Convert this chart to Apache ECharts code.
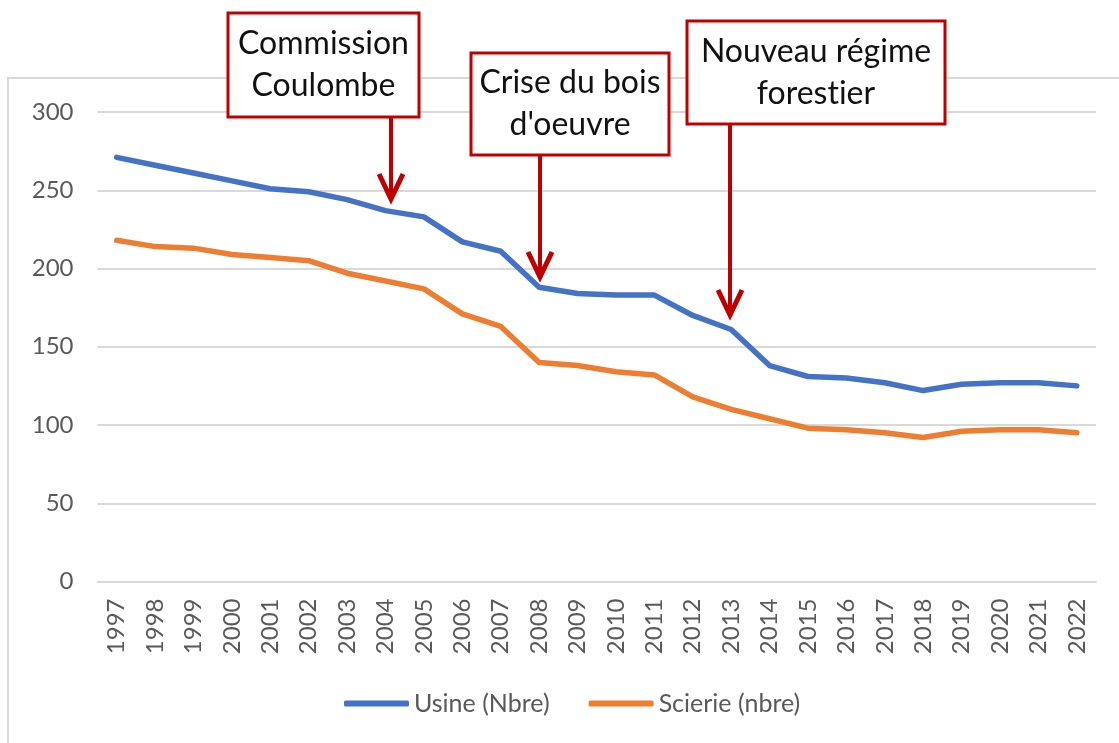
<!DOCTYPE html>
<html>
<head>
<meta charset="utf-8">
<script src="https://cdn.jsdelivr.net/npm/echarts@6/dist/echarts.min.js"></script>
<style>
  html, body {margin: 0; padding: 0; background: #fff;}
  #main {width: 1119px; height: 743px;}
</style>
</head>
<body>
<div id="main"></div>
<script>
// années
const years = ['1997','1998','1999','2000','2001','2002','2003','2004','2005','2006','2007','2008','2009',
  '2010','2011','2012','2013','2014','2015','2016','2017','2018','2019','2020','2021','2022']
// Usine (Nbre)
const usine = [271, 266, 261, 256, 251, 249, 244, 237, 233, 217, 211, 188, 184,
  183, 183, 170, 161, 138, 131, 130, 127, 122, 126, 127, 127, 125]
// Scierie (nbre)
const scierie = [218, 214, 213, 209, 207, 205, 197, 192, 187, 171, 163, 140, 138,
  134, 132, 118, 110, 104, 98, 97, 95, 92, 96, 97, 97, 95]
const yTicks = [0, 50, 100, 150, 200, 250, 300]

const FONT = "Lato, 'Open Sans', sans-serif"
const RED = '#C00000'

// encadrés : texte, boîte [x, y, w, h], flèche [x, y0, y1]
const notes = [
  {text: 'Commission\nCoulombe', box: [228, 13, 191, 104], arrow: [391, 117, 199]},
  {text: 'Crise du bois\nd\'oeuvre', box: [471, 53, 198, 102], arrow: [540, 155, 277]},
  {text: 'Nouveau régime\nforest\u200Bier', box: [687, 21, 258, 103], arrow: [730, 124, 315]}
]

const chart = echarts.init(document.getElementById('main'))

const graphics = [
  // cadre du graphique
  {type: 'rect', shape: {x: 8, y: 78, width: 1200, height: 800}, style: {fill: null, stroke: '#d9d9d9', lineWidth: 2}, z: -1, silent: true}
]
notes.forEach(n => {
  const [bx, by, bw, bh] = n.box
  const [ax, ay0, ay1] = n.arrow
  graphics.push({
    type: 'line', z: 100, shape: {x1: ax, y1: ay0, x2: ax, y2: ay1 - 2},
    style: {stroke: RED, lineWidth: 4}
  })
  graphics.push({
    type: 'polyline', z: 100, shape: {points: [[ax - 12, ay1 - 25], [ax, ay1], [ax + 12, ay1 - 25]]},
    style: {stroke: RED, lineWidth: 5, fill: null, lineJoin: 'miter'}
  })
  graphics.push({
    type: 'rect', z: 101, shape: {x: bx, y: by, width: bw, height: bh},
    style: {fill: '#fff', stroke: RED, lineWidth: 3}
  })
  graphics.push({
    type: 'text', z: 102, x: bx + bw / 2, y: by + bh / 2,
    style: {text: n.text, fill: '#111', font: '32px ' + FONT, align: 'center', verticalAlign: 'middle', lineHeight: 42}
  })
})

const option = {
  backgroundColor: '#fff',
  animation: false,
  textStyle: {fontFamily: FONT},
  grid: {left: 97.5, right: 23, top: 112, bottom: 161.5},
  legend: {
    left: 339, top: 686,
    itemWidth: 65, itemHeight: 6, itemGap: 39,
    icon: 'roundRect',
    textStyle: {fontSize: 25, color: '#595959', fontFamily: FONT},
    data: ['Usine (Nbre)', 'Scierie (nbre)']
  },
  xAxis: {
    type: 'category',
    data: years,
    boundaryGap: true,
    axisLine: {show: true, lineStyle: {color: '#d9d9d9', width: 2}},
    axisTick: {show: false},
    axisLabel: {rotate: 90, interval: 0, fontSize: 24, color: '#595959', margin: 17}
  },
  yAxis: {
    type: 'value',
    min: yTicks[0], max: yTicks[yTicks.length - 1], interval: 50,
    axisLine: {show: false},
    axisTick: {show: false},
    axisLabel: {fontSize: 24, color: '#595959', margin: 24},
    splitLine: {lineStyle: {color: '#d9d9d9', width: 2}}
  },
  series: [
    {
      name: 'Usine (Nbre)', type: 'line', data: usine,
      showSymbol: false, symbol: 'none', color: '#4472C4',
      lineStyle: {width: 5.5, color: '#4472C4', cap: 'round', join: 'round'}
    },
    {
      name: 'Scierie (nbre)', type: 'line', data: scierie,
      showSymbol: false, symbol: 'none', color: '#ED7D31',
      lineStyle: {width: 5.5, color: '#ED7D31', cap: 'round', join: 'round'}
    }
  ],
  graphic: graphics
}

chart.setOption(option)
</script>
</body>
</html>
